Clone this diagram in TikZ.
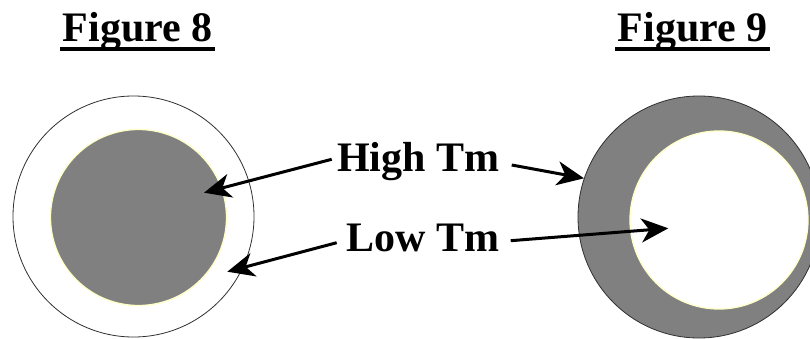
\documentclass[tikz,border=0pt]{standalone}
\usepackage{fontspec}
\setmainfont{Liberation Serif}
\usetikzlibrary{arrows.meta}
\definecolor{fillgray}{HTML}{808080}
\definecolor{rimyellow}{HTML}{FFFFC8}
\definecolor{rimdark}{HTML}{303030}
\begin{document}
\begin{tikzpicture}[x=1pt,y=-1pt,
  lbl/.style={font=\fontsize{42}{50}\selectfont\bfseries, inner sep=0pt, anchor=base west},
  head/.style={font=\fontsize{42}{50}\selectfont\bfseries, inner ysep=0pt, inner xsep=2.5pt, anchor=base west},
  ring/.style={circle, inner sep=0pt, draw=rimdark, line width=0.8pt},
  core/.style={circle, inner sep=0pt, draw=rimyellow, line width=1.3pt},
  pointer/.style={line width=3pt, -{Stealth[length=27pt,width=24pt,inset=8pt]}},
  uline/.style={line width=4pt}]
\useasboundingbox (0,0) rectangle (810,339);
\clip (0,0) rectangle (810,339);
% Figure 8
\node[ring, fill=white, minimum size=241pt] (o8) at (133.5,216.5) {};
\node[core, fill=fillgray, minimum size=176pt] (i8) at (138.5,217.5) {};
% Figure 9
\node[ring, fill=fillgray, minimum size=242pt] (o9) at (699,217) {};
\node[core, fill=white, minimum size=178pt] (i9) at (719,220) {};
% headers
\node[head] (f8) at (60,42) {Figure 8};
\node[head] (f9) at (615,42) {Figure 9};
\draw[uline] ([yshift=-7pt]f8.base west) -- ([yshift=-7pt]f8.base east);
\draw[uline] ([yshift=-7pt]f9.base west) -- ([yshift=-7pt]f9.base east);
% labels
\node[lbl] (hi) at (337,171.7) {High Tm};
\node[lbl] (lo) at (346,251.7) {Low Tm};
% arrow endpoints
\coordinate (hiL) at (331.7,159.3);
\coordinate (hiR) at (511.7,165);
\coordinate (loL) at (336.7,242.7);
\coordinate (loR) at (510.7,240.7);
\coordinate (t1) at (204,192.7);
\coordinate (t2) at (227.3,271.7);
\coordinate (t3) at (584,178.3);
\coordinate (t4) at (668.3,228.3);
\draw[pointer] (hiL) -- (t1);
\draw[pointer] (loL) -- (t2);
\draw[pointer] (hiR) -- (t3);
\draw[pointer] (loR) -- (t4);
\end{tikzpicture}
\end{document}
